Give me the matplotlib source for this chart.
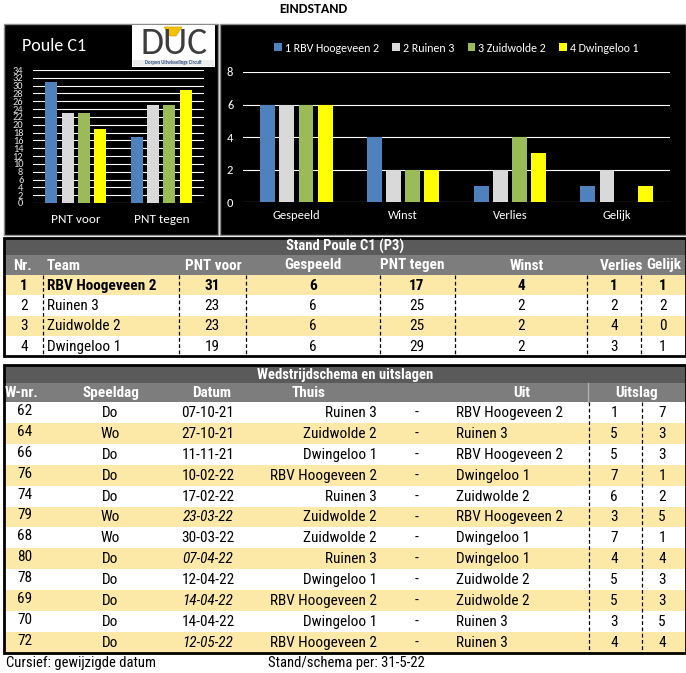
import matplotlib
matplotlib.use('Agg')
import matplotlib.pyplot as plt
from matplotlib.patches import Rectangle, Polygon
import numpy as np

# stand
teams = ['RBV Hoogeveen 2', 'Ruinen 3', 'Zuidwolde 2', 'Dwingeloo 1']
legend_labels = ['1 RBV Hoogeveen 2', '2 Ruinen 3', '3 Zuidwolde 2', '4 Dwingeloo 1']
pnt_voor = [31, 23, 23, 19]
pnt_tegen = [17, 25, 25, 29]
gespeeld = [6, 6, 6, 6]
winst = [4, 2, 2, 2]
verlies = [1, 2, 4, 3]
gelijk = [1, 2, 0, 1]

# wedstrijdschema
wnr = [62, 64, 66, 76, 74, 79, 68, 80, 78, 69, 70, 72]
speeldag = ['Do', 'Wo', 'Do', 'Do', 'Do', 'Wo', 'Wo', 'Do', 'Do', 'Do', 'Do', 'Do']
datum = ['07-10-21', '27-10-21', '11-11-21', '10-02-22', '17-02-22', '23-03-22',
         '30-03-22', '07-04-22', '12-04-22', '14-04-22', '14-04-22', '12-05-22']
gewijzigd = [False, False, False, False, False, True, False, True, False, True, False, True]
thuis = ['Ruinen 3', 'Zuidwolde 2', 'Dwingeloo 1', 'RBV Hoogeveen 2', 'Ruinen 3', 'Zuidwolde 2',
         'Zuidwolde 2', 'Ruinen 3', 'Dwingeloo 1', 'RBV Hoogeveen 2', 'Dwingeloo 1', 'RBV Hoogeveen 2']
uit = ['RBV Hoogeveen 2', 'Ruinen 3', 'RBV Hoogeveen 2', 'Dwingeloo 1', 'Zuidwolde 2', 'RBV Hoogeveen 2',
       'Dwingeloo 1', 'Dwingeloo 1', 'Zuidwolde 2', 'Zuidwolde 2', 'Ruinen 3', 'Ruinen 3']
score_thuis = [1, 5, 5, 7, 6, 3, 7, 4, 5, 5, 3, 4]
score_uit = [7, 3, 3, 1, 2, 5, 1, 4, 3, 3, 5, 4]

colors = ['#4F81BD', '#D9D9D9', '#9BBB59', '#FFFF00']
YELLOW = '#FDE9A7'
CHART_FONT = ['Carlito', 'Lato', 'DejaVu Sans']
TABLE_FONT = ['Roboto Condensed', 'PT Sans Narrow', 'Liberation Sans']

W, H = 686, 673
fig = plt.figure(figsize=(W / 100, H / 100), dpi=100)
base = fig.add_axes([0, 0, 1, 1])
base.set_xlim(0, W)
base.set_ylim(H, 0)
base.axis('off')


def px_axes(x0, y0, x1, y1):
    return fig.add_axes([x0 / W, 1 - y1 / H, (x1 - x0) / W, (y1 - y0) / H])


def txt(x, y, s, ha='center', bold=False, italic=False, color='black', size=11, family=TABLE_FONT):
    base.text(x, y, s, ha=ha, va='center', fontsize=size, color=color,
              fontweight='bold' if bold else 'normal',
              fontstyle='italic' if italic else 'normal', family=family)


def dash(x, y0, y1):
    base.plot([x, x], [y0, y1], color='black', lw=0.9, ls=(0, (3, 2)))


base.text(313, 9, 'EINDSTAND', ha='center', va='center', fontsize=10,
          fontweight='bold', family=CHART_FONT)

# chart panels
base.add_patch(Rectangle((3.5, 24), 214.5, 211, facecolor='black', edgecolor='#8c8c8c', lw=1))
base.add_patch(Rectangle((220, 24), 466, 211, facecolor='black', edgecolor='#8c8c8c', lw=1))

base.text(22, 46, 'Poule C1', ha='left', va='center', fontsize=13, color='white', family=CHART_FONT)

# logo
base.add_patch(Rectangle((132, 25), 83, 42, facecolor='white', edgecolor='none'))
base.add_patch(Rectangle((133, 59.5), 81, 6.5, facecolor='#ececec', edgecolor='none'))
base.text(174, 44, 'DUC', ha='center', va='center', fontsize=27, color='#3d3d3d', family=CHART_FONT)
base.add_patch(Polygon([[164, 27], [182, 27], [176, 36], [170, 36]], closed=True,
                       facecolor='#F2C200', edgecolor='#d9a300', lw=0.5))
base.text(173, 62.8, 'Dorpen Uitwisselings Circuit', ha='center', va='center', fontsize=3.5,
          color='#2f4f7f', fontweight='bold', family=CHART_FONT)

# left chart
ax1 = px_axes(33, 70, 204, 203)
ax1.set_facecolor('black')
cats1 = ['PNT voor', 'PNT tegen']
x1 = np.arange(len(cats1))
for i in range(4):
    vals = [pnt_voor[i], pnt_tegen[i]]
    ax1.bar(x1 + (i - 1.5) * 0.19, vals, width=0.14, color=colors[i], zorder=3)
ax1.set_ylim(0, 34)
ax1.set_xlim(-0.5, 1.5)
ax1.set_yticks(range(0, 35, 2))
ax1.set_yticklabels([str(v) for v in range(0, 35, 2)], fontsize=7.5, color='#e0e0e0', family=CHART_FONT)
ax1.set_xticks(x1)
ax1.set_xticklabels(cats1, fontsize=9.5, color='white', family=CHART_FONT)
ax1.tick_params(length=0)
ax1.tick_params(axis='y', pad=7)
ax1.tick_params(axis='x', pad=8)
ax1.grid(axis='y', color='white', lw=0.8, zorder=0)
for s in ax1.spines.values():
    s.set_visible(False)

# right chart
ax2 = px_axes(243, 72, 670, 202)
ax2.set_facecolor('black')
cats2 = ['Gespeeld', 'Winst', 'Verlies', 'Gelijk']
x2 = np.arange(len(cats2))
for i in range(4):
    vals = [gespeeld[i], winst[i], verlies[i], gelijk[i]]
    ax2.bar(x2 + (i - 1.5) * 0.18, vals, width=0.14, color=colors[i], zorder=3,
            label=legend_labels[i])
ax2.set_ylim(0, 8)
ax2.set_xlim(-0.5, 3.5)
ax2.set_yticks(range(0, 9, 2))
ax2.set_yticklabels([str(v) for v in range(0, 9, 2)], fontsize=9, color='white', family=CHART_FONT)
ax2.set_xticks(x2)
ax2.set_xticklabels(cats2, fontsize=9, color='white', family=CHART_FONT)
ax2.tick_params(length=0)
ax2.tick_params(axis='y', pad=7)
ax2.tick_params(axis='x', pad=6)
ax2.grid(axis='y', color='white', lw=0.8, zorder=0)
for s in ax2.spines.values():
    s.set_visible(False)
leg = ax2.legend(loc='center', bbox_to_anchor=(0.5, 1 + 24 / 130), ncol=4, frameon=False,
                 handlelength=0.6, handleheight=0.6, handletextpad=0.3, columnspacing=1.1,
                 prop={'family': CHART_FONT, 'size': 8.6}, labelcolor='white')

# table 1: stand
t_top, t_title, t_head = 237.5, 255, 275
row_h1 = 20.3
base.add_patch(Rectangle((3.5, t_top), 682, t_title - t_top, facecolor='#5a5a5a', edgecolor='none'))
base.add_patch(Rectangle((3.5, t_title), 682, t_head - t_title, facecolor='#7d7d7d', edgecolor='none'))
txt(345, (t_top + t_title) / 2 + 0.5, 'Stand Poule C1 (P3)', bold=True, color='white', size=10.5)
head1 = [('Nr.', 22, 'center'), ('Team', 47, 'left'), ('PNT voor', 213, 'center'),
         ('Gespeeld', 313, 'center'), ('PNT tegen', 412, 'center'), ('Winst', 527, 'center'),
         ('Verlies', 622, 'center'), ('Gelijk', 664, 'center')]
for s, x, ha in head1:
    txt(x, (t_title + t_head) / 2 + 0.5, s, ha=ha, bold=True, color='white', size=11)
for r in range(4):
    y0 = t_head + r * row_h1
    if r % 2 == 0:
        base.add_patch(Rectangle((3.5, y0), 682, row_h1, facecolor=YELLOW, edgecolor='none'))
    yc = y0 + row_h1 / 2 + 0.5
    b = r == 0
    vals = [(str(r + 1), 24, 'center'), (teams[r], 47, 'left'), (str(pnt_voor[r]), 212, 'center'),
            (str(gespeeld[r]), 313, 'center'), (str(pnt_tegen[r]), 417, 'center'),
            (str(winst[r]), 521, 'center'), (str(verlies[r]), 614, 'center'),
            (str(gelijk[r]), 663, 'center')]
    for s, x, ha in vals:
        txt(x, yc, s, ha=ha, bold=b)
t_bot = t_head + 4 * row_h1
for x in [43, 179, 246, 380, 455, 587, 641]:
    dash(x, t_head, t_bot)
base.add_patch(Rectangle((3.5, t_top), 682, t_bot - t_top, facecolor='none', edgecolor='black', lw=2))

# table 2: wedstrijdschema
s_top, s_title, s_head = 365, 383, 402
row_h2 = 20.9
base.add_patch(Rectangle((3.5, s_top), 682, s_title - s_top, facecolor='#5a5a5a', edgecolor='none'))
base.add_patch(Rectangle((3.5, s_title), 682, s_head - s_title, facecolor='#7d7d7d', edgecolor='none'))
base.plot([588, 588], [s_title, s_head], color='#b0b0b0', lw=1)
txt(345, (s_top + s_title) / 2 + 0.5, 'Wedstrijdschema en uitslagen', bold=True, color='white', size=10.5)
head2 = [('W-nr.', 5, 'left'), ('Speeldag', 111, 'center'), ('Datum', 212, 'center'),
         ('Thuis', 309, 'center'), ('Uit', 522, 'center'), ('Uitslag', 637, 'center')]
for s, x, ha in head2:
    txt(x, (s_title + s_head) / 2 + 0.5, s, ha=ha, bold=True, color='white', size=11)
for r in range(len(wnr)):
    y0 = s_head + r * row_h2
    if r % 2 == 1:
        base.add_patch(Rectangle((3.5, y0), 682, row_h2, facecolor=YELLOW, edgecolor='none'))
    yc = y0 + row_h2 / 2 + 0.5
    txt(17, yc - 2, str(wnr[r]), ha='left')
    txt(110, yc, speeldag[r])
    txt(208, yc, datum[r], italic=gewijzigd[r])
    txt(377, yc, thuis[r], ha='right')
    txt(417, yc, '-')
    txt(456, yc, uit[r], ha='left')
    txt(614, yc, str(score_thuis[r]))
    txt(662, yc, str(score_uit[r]))
s_bot = s_head + len(wnr) * row_h2
for x in [589, 642]:
    dash(x, s_head, s_bot)
base.add_patch(Rectangle((3.5, s_top), 682, s_bot - s_top, facecolor='none', edgecolor='black', lw=2))

txt(6, 663, 'Cursief: gewijzigde datum', ha='left', size=10.5)
txt(268, 663, 'Stand/schema per: 31-5-22', ha='left', size=10.5)

fig.savefig('out.png', dpi=100, facecolor='white')
